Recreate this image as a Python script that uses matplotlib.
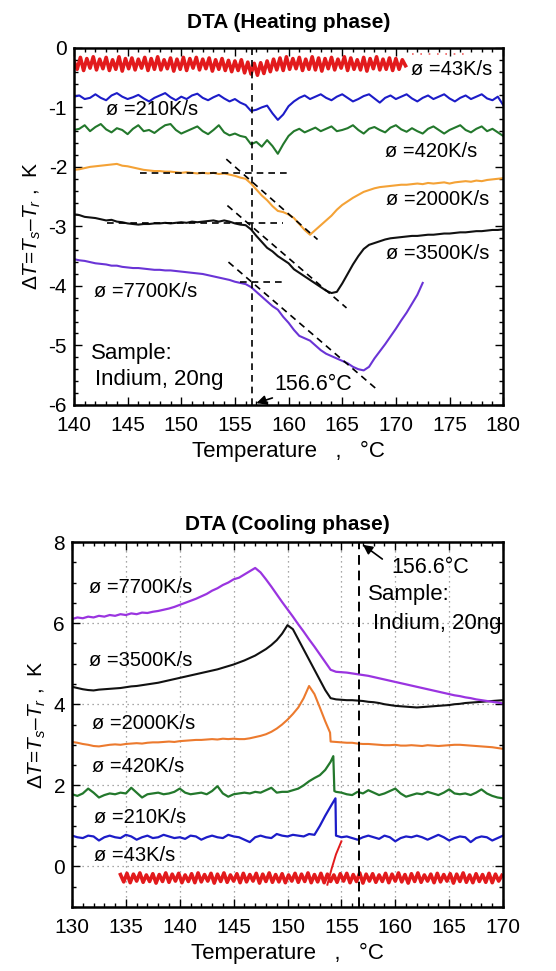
import numpy as np
import matplotlib
matplotlib.use("Agg")
import matplotlib.pyplot as plt
from matplotlib.ticker import MultipleLocator

plt.rcParams['font.family'] = ['Liberation Sans', 'DejaVu Sans']
plt.rcParams['mathtext.fontset'] = 'custom'
plt.rcParams['mathtext.rm'] = 'Liberation Sans'
plt.rcParams['mathtext.it'] = 'Liberation Sans:italic'
plt.rcParams['axes.unicode_minus'] = False

MELT = 156.6

# ---- heating phase (top), sampled every 0.5 C from 140 C unless noted ----
H43 = [  # every 0.3 C from 140
    -0.22, -0.36, -0.16, -0.38, -0.18, -0.34, -0.15, -0.37, -0.19, -0.35,
    -0.16, -0.38, -0.20, -0.36, -0.15, -0.39, -0.18, -0.35, -0.17, -0.37,
    -0.19, -0.34, -0.16, -0.38, -0.18, -0.36, -0.15, -0.37, -0.20, -0.35,
    -0.17, -0.39, -0.19, -0.36, -0.16, -0.38, -0.18, -0.34, -0.16, -0.37,
    -0.19, -0.35, -0.17, -0.39, -0.20, -0.36, -0.18, -0.38, -0.21, -0.40,
    -0.22, -0.38, -0.20, -0.42, -0.24, -0.44, -0.26, -0.46, -0.25, -0.43,
    -0.22, -0.40, -0.19, -0.37, -0.17, -0.38, -0.15, -0.36, -0.18, -0.35,
    -0.16, -0.38, -0.19, -0.36, -0.15, -0.37, -0.17, -0.39, -0.18, -0.35,
    -0.16, -0.37, -0.19, -0.34, -0.15, -0.38, -0.17, -0.36, -0.20, -0.37,
    -0.16, -0.39, -0.18, -0.35, -0.15, -0.37, -0.19, -0.36, -0.17, -0.38,
    -0.18, -0.36, -0.20, -0.30,
]
H43_TAIL_T = [171.5, 176.5]
H43_TAIL_V = [-0.10, -0.10]

H210 = [
    -0.82, -0.80, -0.86, -0.84, -0.78, -0.84, -0.88, -0.80,
    -0.76, -0.82, -0.86, -0.83, -0.79, -0.85, -0.90, -0.84,
    -0.80, -0.76, -0.83, -0.88, -0.82, -0.86, -0.80, -0.77,
    -0.84, -0.88, -0.83, -0.79, -0.85, -0.90, -0.86, -0.92,
    -0.96, -1.06, -1.04, -1.00, -0.97, -1.10, -1.21, -1.12,
    -0.98, -0.90, -0.84, -0.80, -0.86, -0.82, -0.78, -0.84,
    -0.88, -0.82, -0.78, -0.84, -0.90, -0.86, -0.81, -0.78,
    -0.85, -0.92, -0.84, -0.80, -0.86, -0.82, -0.78, -0.85,
    -0.90, -0.84, -0.80, -0.86, -0.82, -0.78, -0.85, -0.90,
    -0.84, -0.80, -0.86, -0.82, -0.78, -0.85, -0.88, -0.82,
    -0.96,
]
H420 = [
    -1.38, -1.36, -1.30, -1.40, -1.33, -1.28, -1.37, -1.42,
    -1.35, -1.38, -1.45, -1.36, -1.30, -1.40, -1.38, -1.43,
    -1.36, -1.30, -1.28, -1.38, -1.44, -1.40, -1.36, -1.32,
    -1.40, -1.45, -1.38, -1.30, -1.42, -1.47, -1.44, -1.48,
    -1.50, -1.62, -1.58, -1.66, -1.55, -1.65, -1.78, -1.62,
    -1.48, -1.40, -1.36, -1.42, -1.38, -1.34, -1.40, -1.36,
    -1.32, -1.40, -1.38, -1.35, -1.30, -1.38, -1.44, -1.36,
    -1.33, -1.38, -1.42, -1.34, -1.30, -1.37, -1.41, -1.35,
    -1.40, -1.44, -1.36, -1.32, -1.38, -1.44, -1.38, -1.34,
    -1.30, -1.38, -1.42, -1.36, -1.32, -1.40, -1.36, -1.42,
    -1.48,
]
H2000 = [
    -2.05, -2.04, -2.02, -2.00, -1.99, -1.98, -1.97, -1.96,
    -1.95, -1.98, -1.99, -2.01, -2.03, -2.05, -2.06, -2.07,
    -2.07, -2.08, -2.08, -2.09, -2.10, -2.09, -2.10, -2.11,
    -2.10, -2.11, -2.10, -2.12, -2.11, -2.13, -2.15, -2.18,
    -2.20, -2.28, -2.38, -2.48, -2.56, -2.66, -2.74, -2.76,
    -2.80, -2.86, -2.96, -3.06, -3.14, -3.06, -2.98, -2.90,
    -2.82, -2.72, -2.64, -2.58, -2.52, -2.47, -2.42, -2.39,
    -2.36, -2.34, -2.33, -2.32, -2.31, -2.30, -2.30, -2.29,
    -2.28, -2.29, -2.27, -2.28, -2.27, -2.26, -2.28, -2.26,
    -2.25, -2.24, -2.25, -2.23, -2.24, -2.22, -2.21, -2.20,
    -2.19,
]
H3500 = [
    -2.80, -2.81, -2.84, -2.85, -2.86, -2.88, -2.90, -2.89,
    -2.92, -2.93, -2.95, -2.96, -2.97, -2.96, -2.96, -2.95,
    -2.95, -2.94, -2.95, -2.94, -2.93, -2.94, -2.92, -2.93,
    -2.92, -2.91, -2.90, -2.92, -2.90, -2.92, -2.95, -2.97,
    -2.98, -3.05, -3.16, -3.26, -3.36, -3.42, -3.50, -3.56,
    -3.62, -3.72, -3.78, -3.84, -3.90, -3.96, -4.02, -4.08,
    -4.12, -4.10, -3.96, -3.80, -3.64, -3.50, -3.38, -3.31,
    -3.28, -3.25, -3.22, -3.20, -3.19, -3.18, -3.17, -3.16,
    -3.16, -3.15, -3.14, -3.14, -3.13, -3.12, -3.12, -3.11,
    -3.10, -3.10, -3.09, -3.08, -3.08, -3.07, -3.06, -3.06,
    -3.05,
]
H7700 = [
    -3.55, -3.57, -3.58, -3.60, -3.62, -3.63, -3.64, -3.66,
    -3.66, -3.68, -3.69, -3.70, -3.70, -3.71, -3.72, -3.73,
    -3.73, -3.74, -3.74, -3.75, -3.76, -3.77, -3.78, -3.79,
    -3.80, -3.82, -3.84, -3.86, -3.88, -3.90, -3.93, -3.95,
    -3.97, -4.02, -4.10, -4.18, -4.26, -4.34, -4.40, -4.52,
    -4.62, -4.74, -4.84, -4.88, -4.92, -5.00, -5.08, -5.14,
    -5.18, -5.22, -5.26, -5.30, -5.36, -5.40, -5.42, -5.36,
    -5.22, -5.10, -4.98, -4.85, -4.72, -4.58, -4.45, -4.30,
    -4.15, -3.95,
]
# tangent construction lines (temperature pairs, value pairs)
TANGENTS = [
    ([146.2, 160.1], [-2.10, -2.10]),
    ([154.2, 162.7], [-1.87, -3.22]),
    ([143.1, 159.5], [-2.94, -2.94]),
    ([154.3, 165.4], [-2.65, -4.37]),
    ([155.5, 159.6], [-3.93, -3.93]),
    ([154.4, 168.3], [-3.60, -5.75]),
]

# ---- cooling phase (bottom), sampled every 0.5 C from 130 C unless noted ----
C43 = [  # every 0.3 C from 134.5
    -0.20, -0.38, -0.17, -0.40, -0.19, -0.36, -0.16, -0.39, -0.21, -0.37,
    -0.18, -0.41, -0.20, -0.37, -0.16, -0.39, -0.19, -0.36, -0.17, -0.40,
    -0.21, -0.37, -0.18, -0.40, -0.16, -0.38, -0.20, -0.36, -0.17, -0.41,
    -0.19, -0.37, -0.16, -0.39, -0.21, -0.36, -0.18, -0.40, -0.17, -0.38,
    -0.20, -0.36, -0.17, -0.41, -0.19, -0.37, -0.16, -0.39, -0.20, -0.38,
    -0.18, -0.40, -0.21, -0.36, -0.17, -0.39, -0.19, -0.37, -0.16, -0.40,
    -0.20, -0.38, -0.17, -0.40, -0.19, -0.37, -0.21, -0.39, -0.18, -0.36,
    -0.17, -0.40, -0.20, -0.37, -0.16, -0.41, -0.19, -0.36, -0.18, -0.39,
    -0.21, -0.37, -0.17, -0.40, -0.19, -0.36, -0.16, -0.38, -0.20, -0.41,
    -0.18, -0.37, -0.16, -0.39, -0.21, -0.36, -0.19, -0.40, -0.17, -0.38,
    -0.20, -0.36, -0.18, -0.41, -0.19, -0.37, -0.16, -0.39, -0.21, -0.40,
    -0.18, -0.37, -0.20, -0.39, -0.17, -0.40, -0.19, -0.36, -0.22,
]
C43_SPIKE_T = [153.7, 154.1, 154.5, 155.0]
C43_SPIKE_V = [-0.45, -0.05, 0.30, 0.62]

C210 = [
    0.76, 0.72, 0.70, 0.76, 0.74, 0.64, 0.72, 0.76,
    0.72, 0.70, 0.78, 0.74, 0.66, 0.72, 0.76, 0.70,
    0.72, 0.78, 0.74, 0.70, 0.72, 0.68, 0.76, 0.74,
    0.66, 0.72, 0.76, 0.72, 0.70, 0.78, 0.74, 0.72,
    0.66, 0.60, 0.72, 0.76, 0.72, 0.70, 0.80, 0.76,
    0.74, 0.78, 0.76, 0.74, 0.80, 0.78, 1.00, 1.25,
    1.48, 0.76, 0.72, 0.74, 0.70, 0.66, 0.72, 0.76,
    0.72, 0.68, 0.76, 0.72, 0.62, 0.70, 0.74, 0.72,
    0.76, 0.72, 0.66, 0.72, 0.78, 0.72, 0.64, 0.70,
    0.74, 0.72, 0.60, 0.70, 0.74, 0.72, 0.64, 0.70,
    0.76,
]
C210_PEAK_T = [154.45]
C210_PEAK_V = [1.68]

C420 = [
    1.78, 1.74, 1.80, 1.92, 1.82, 1.70, 1.76, 1.80,
    1.78, 1.82, 1.80, 1.94, 1.82, 1.70, 1.78, 1.80,
    1.82, 1.78, 1.80, 1.84, 1.92, 1.82, 1.78, 1.80,
    1.82, 1.78, 1.86, 1.98, 1.80, 1.72, 1.78, 1.80,
    1.82, 1.80, 1.84, 1.82, 1.88, 1.94, 1.82, 1.84,
    1.84, 1.88, 1.92, 2.00, 2.10, 2.18, 2.25, 2.38,
    2.58, 1.84, 1.82, 1.78, 1.76, 1.84, 1.80, 1.88,
    1.82, 1.76, 1.80, 1.86, 1.92, 1.80, 1.72, 1.76,
    1.80, 1.78, 1.84, 1.80, 1.76, 1.82, 1.90, 1.80,
    1.78, 1.80, 1.76, 1.82, 1.90, 1.80, 1.74, 1.70,
    1.68,
]
C420_PEAK_T = [154.25, 154.35]
C420_PEAK_V = [2.72, 1.86]

C2000 = [
    3.07, 3.05, 3.02, 3.00, 2.97, 2.96, 2.98, 3.00,
    3.01, 3.00, 3.02, 3.03, 3.04, 3.03, 3.05, 3.06,
    3.06, 3.07, 3.08, 3.07, 3.09, 3.10, 3.11, 3.12,
    3.12, 3.13, 3.14, 3.13, 3.15, 3.14, 3.15, 3.14,
    3.14, 3.16, 3.19, 3.22, 3.26, 3.32, 3.40, 3.50,
    3.62, 3.76, 3.92, 4.15, 4.45, 4.25, 3.92, 3.58,
    3.08, 3.07, 3.06, 3.05, 3.05, 3.03, 3.02, 3.02,
    3.01, 3.00, 2.99, 2.99, 3.00, 2.98, 2.98, 2.99,
    2.98, 2.97, 2.99, 2.98, 2.97, 2.98, 2.99, 3.00,
    3.00, 2.99, 2.98, 2.97, 2.96, 2.95, 2.94, 2.92,
    2.90,
]
C2000_DROP_T = [153.95]
C2000_DROP_V = [3.30]

C3500 = [
    4.43, 4.40, 4.37, 4.35, 4.34, 4.36, 4.37, 4.38,
    4.39, 4.40, 4.42, 4.44, 4.45, 4.47, 4.49, 4.51,
    4.53, 4.56, 4.59, 4.62, 4.65, 4.68, 4.71, 4.74,
    4.77, 4.80, 4.83, 4.86, 4.90, 4.94, 4.98, 5.03,
    5.08, 5.14, 5.20, 5.28, 5.36, 5.46, 5.58, 5.74,
    5.95, 5.85, 5.60, 5.35, 5.10, 4.85, 4.60, 4.35,
    4.15, 4.12, 4.11, 4.10, 4.10, 4.09, 4.08, 4.06,
    4.05, 4.03, 4.00, 3.98, 3.96, 3.95, 3.94, 3.93,
    3.92, 3.93, 3.94, 3.95, 3.96, 3.97, 3.98, 4.00,
    4.01, 4.03, 4.04, 4.05, 4.06, 4.07, 4.08, 4.09,
    4.10,
]
C7700 = [
    6.10, 6.14, 6.12, 6.16, 6.14, 6.18, 6.16, 6.20,
    6.18, 6.22, 6.20, 6.24, 6.22, 6.26, 6.25, 6.28,
    6.30, 6.33, 6.36, 6.40, 6.45, 6.50, 6.55, 6.60,
    6.66, 6.72, 6.80, 6.86, 6.94, 7.00, 7.08, 7.12,
    7.20, 7.28, 7.36, 7.25, 7.08, 6.90, 6.71, 6.52,
    6.34, 6.16, 5.97, 5.79, 5.60, 5.42, 5.23, 5.04,
    4.85, 4.80, 4.79, 4.78, 4.76, 4.74, 4.72, 4.70,
    4.67, 4.64, 4.61, 4.58, 4.55, 4.52, 4.49, 4.46,
    4.43, 4.40, 4.37, 4.34, 4.31, 4.28, 4.25, 4.22,
    4.20, 4.17, 4.15, 4.12, 4.10, 4.08, 4.06, 4.04,
    4.02,
]

RED, BLUE, GREEN, BLACK = '#e21a1c', '#1c1cc8', '#23782c', '#111111'
ORANGE_H, ORANGE_C = '#f4a236', '#ec7a2e'
PURPLE_H, PURPLE_C = '#6a34d6', '#9a34e0'
YLABEL = r'$\mathit{\Delta T}$=$\mathit{T}_s$' + '\u2013' + r'$\mathit{T}_r$ ,  K'


def trace(start, step, vals, extra_t=(), extra_v=()):
    t = start + step * np.arange(len(vals))
    t = np.concatenate([t, np.asarray(extra_t, float)])
    v = np.concatenate([np.asarray(vals, float), np.asarray(extra_v, float)])
    order = np.argsort(t, kind='stable')
    return t[order], v[order]


def style_axes(ax, xlim, ylim, xmaj, ymaj, xmin, ymin, title, tpad):
    ax.set_xlim(*xlim)
    ax.set_ylim(*ylim)
    ax.xaxis.set_major_locator(MultipleLocator(xmaj))
    ax.yaxis.set_major_locator(MultipleLocator(ymaj))
    ax.xaxis.set_minor_locator(MultipleLocator(xmin))
    ax.yaxis.set_minor_locator(MultipleLocator(ymin))
    ax.tick_params(which='both', direction='in', top=True, right=True,
                   labelsize=15, width=1)
    ax.tick_params(which='major', length=6, pad=5)
    ax.tick_params(axis='x', which='major', pad=8)
    ax.tick_params(which='minor', length=3)
    for s in ax.spines.values():
        s.set_linewidth(1.8)
    ax.set_title(title, fontsize=15, fontweight='bold', pad=tpad)
    ax.set_xlabel('Temperature   ,   \u00b0C', fontsize=16, labelpad=4)
    ax.set_ylabel(YLABEL, fontsize=15, labelpad=4)


fig = plt.figure(figsize=(5.56, 9.71), dpi=100)
lab = 14.5

# ---------------- heating ----------------
ax = fig.add_axes([0.133, 0.583, 0.772, 0.3677])
style_axes(ax, (140, 180), (-6, 0), 5, 1, 1, 0.2, 'DTA (Heating phase)', 14)

t, v = trace(140, 0.3, H43)
ax.plot(t, v, color=RED, lw=2.6)
ax.plot(H43_TAIL_T, H43_TAIL_V, color='#f06060', lw=1.2, ls=(0, (1, 4)))
for vals, col in [(H210, BLUE), (H420, GREEN), (H2000, ORANGE_H),
                  (H3500, BLACK), (H7700, PURPLE_H)]:
    t, v = trace(140, 0.5, vals)
    ax.plot(t, v, color=col, lw=1.5)
for tt, vv in TANGENTS:
    ax.plot(tt, vv, color='k', lw=1.2, ls=(0, (4, 3)))
ax.axvline(MELT, color='k', lw=1.2, ls=(0, (4, 3)))

ax.text(171.4, -0.37, '\u00f8 =43K/s', fontsize=lab, va='center')
ax.text(143.0, -1.04, '\u00f8 =210K/s', fontsize=lab, va='center')
ax.text(169.0, -1.74, '\u00f8 =420K/s', fontsize=lab, va='center')
ax.text(169.1, -2.55, '\u00f8 =2000K/s', fontsize=lab, va='center')
ax.text(169.1, -3.45, '\u00f8 =3500K/s', fontsize=lab, va='center')
ax.text(141.9, -4.10, '\u00f8 =7700K/s', fontsize=lab, va='center')
ax.text(141.6, -5.13, 'Sample:', fontsize=16, va='center')
ax.text(142.0, -5.58, 'Indium, 20ng', fontsize=16, va='center')
ax.annotate('156.6\u00b0C', xy=(157.0, -5.97), xytext=(158.7, -5.66),
            fontsize=15.5, va='center',
            arrowprops=dict(arrowstyle='-|>', color='k', lw=1.2,
                            mutation_scale=14, shrinkA=0, shrinkB=0))

# ---------------- cooling ----------------
ax = fig.add_axes([0.1295, 0.0659, 0.7752, 0.3759])
style_axes(ax, (130, 170), (-1, 8), 5, 2, 1, 0.5, 'DTA (Cooling phase)', 9)
ax.set_yticks([0, 2, 4, 6, 8])
ax.grid(True, which='major', ls=(0, (1, 3)), color='#8a8a8a', lw=0.9)

t, v = trace(134.5, 0.3, C43)
ax.plot(t, v, color=RED, lw=2.6)
ax.plot(C43_SPIKE_T, C43_SPIKE_V, color=RED, lw=1.4)
t, v = trace(130, 0.5, C210, C210_PEAK_T, C210_PEAK_V)
ax.plot(t, v, color=BLUE, lw=1.6)
t, v = trace(130, 0.5, C420, C420_PEAK_T, C420_PEAK_V)
ax.plot(t, v, color=GREEN, lw=1.6)
t, v = trace(130, 0.5, C2000, C2000_DROP_T, C2000_DROP_V)
ax.plot(t, v, color=ORANGE_C, lw=1.5)
t, v = trace(130, 0.5, C3500)
ax.plot(t, v, color=BLACK, lw=1.5)
t, v = trace(130, 0.5, C7700)
ax.plot(t, v, color=PURPLE_C, lw=1.6)
ax.axvline(MELT, color='k', lw=1.4, ls=(0, (5, 3)))

ax.text(131.6, 6.87, '\u00f8 =7700K/s', fontsize=lab, va='center')
ax.text(131.6, 5.09, '\u00f8 =3500K/s', fontsize=lab, va='center')
ax.text(131.9, 3.53, '\u00f8 =2000K/s', fontsize=lab, va='center')
ax.text(131.9, 2.46, '\u00f8 =420K/s', fontsize=lab, va='center')
ax.text(132.0, 1.20, '\u00f8 =210K/s', fontsize=lab, va='center')
ax.text(132.0, 0.28, '\u00f8 =43K/s', fontsize=lab, va='center')
ax.text(157.5, 6.70, 'Sample:', fontsize=16, va='center')
ax.text(157.9, 6.00, 'Indium, 20ng', fontsize=16, va='center')
ax.annotate('156.6\u00b0C', xy=(157.0, 7.93), xytext=(159.6, 7.38),
            fontsize=15.5, va='center')
ax.annotate('', xy=(157.0, 7.93), xytext=(158.8, 7.58),
            arrowprops=dict(arrowstyle='-|>', color='k', lw=1.2,
                            mutation_scale=14, shrinkA=0, shrinkB=0))

fig.savefig('out.png', dpi=100)
